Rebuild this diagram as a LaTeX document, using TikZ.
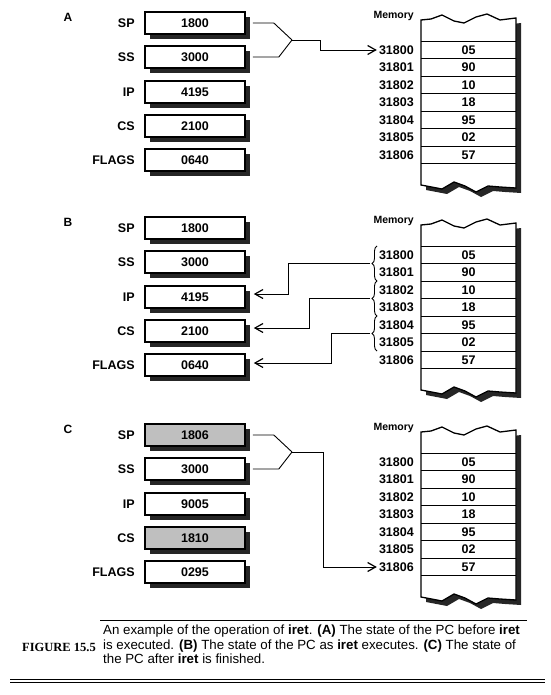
\documentclass[tikz,border=0pt]{standalone}
\usepackage{fontspec}
\setmainfont{Liberation Serif}
\setsansfont{Liberation Sans}
\usetikzlibrary{arrows.meta,positioning,shadows,decorations.pathreplacing}

\tikzset{
  boxshadow/.style={drop shadow={shadow xshift=5pt, shadow yshift=-5pt, fill=black!85, opacity=1}},
  reg/.style={draw, line width=1.6pt, fill=white, minimum width=100pt, minimum height=22pt,
    inner sep=0pt, boxshadow, font=\sffamily\bfseries\fontsize{12.5}{12.5}\selectfont},
  reglab/.style={font=\sffamily\bfseries\fontsize{12.5}{12.5}\selectfont, label distance=6pt},
  addr/.style={anchor=east, inner sep=2pt, font=\sffamily\bfseries\fontsize{12.5}{12.5}\selectfont},
  cell/.style={inner sep=0pt, font=\sffamily\bfseries\fontsize{12.5}{12.5}\selectfont},
  memlab/.style={anchor=east, inner sep=0pt, font=\sffamily\bfseries\fontsize{10.5}{10.5}\selectfont},
  panel/.style={font=\sffamily\bfseries\fontsize{12}{12}\selectfont},
  ptr/.style={-{Straight Barb[length=8pt,width=9pt,line width=1.2pt]}, line width=0.9pt},
  wire/.style={line width=0.9pt},
  brc/.style={decorate, decoration={brace, amplitude=5pt}, line width=0.9pt},
}

\begin{document}
\begin{tikzpicture}[x=1pt, y=-1pt]
\useasboundingbox (0,0) rectangle (550,695);

% the three states A, B, C
\foreach \p/\dy/\vsp/\vip/\vcs/\vfl/\shade in
  {A/0/1800/4195/2100/0640/white, B/205/1800/4195/2100/0640/white, C/412/1806/9005/1810/0295/black!25}{
\begin{scope}[yshift=-\dy pt]
  \node[panel] at (68,17) {\p};
  % registers
  \foreach \r/\lab/\val/\y/\f in {sp/SP/\vsp/23/\shade, ss/SS/3000/57/white, ip/IP/\vip/92/white,
                                  cs/CS/\vcs/126/\shade, fl/FLAGS/\vfl/160/white}
    \node[reg, fill=\f, label={[reglab]left:\lab}] (\p-\r) at (195,\y) {\val};
  \coordinate (\p-fork) at (292,40);
  % memory
  \node[memlab] at (414,16) {Memory};
  \path[draw, fill=white, line width=1.3pt, boxshadow]
    (421,20) -- (431,19) -- (442,15) -- (454,21) -- (464,23) -- (476,17) -- (487,14) -- (500,20) -- (516,18)
    -- (516,188) -- (500,187) -- (488,186) -- (476,192) -- (465,186) -- (454,182) -- (442,189) -- (421,185) -- cycle;
  \foreach \k in {0,...,7}
    \draw[line width=0.9pt] (421,{41+17.5*\k}) -- (516,{41+17.5*\k});
  \foreach \k/\v in {0/05,1/90,2/10,3/18,4/95,5/02,6/57}{
    \node[addr] (\p-a\k) at (416,{50+17.5*\k}) {3180\k};
    \node[cell] (\p-m\k) at (468.5,{50+17.5*\k}) {\v};
  }
\end{scope}
}

% A: SS:SP points at 31800
\draw[wire] ([xshift=7pt]A-sp.east) -- ++(21,0) -- (A-fork);
\draw[wire] ([xshift=7pt]A-ss.east) -- ++(26,0) -- (A-fork);
\draw[ptr] (A-fork) -- ++(28,0) |- (A-a0.west);

% B: words popped into IP, CS, FLAGS
\foreach \i/\ya/\yb in {1/281/246, 2/316/281, 3/351/316}{
  \draw[brc] (377,\ya) -- (377,\yb);
  \coordinate (B-b\i) at (370,{(\ya+\yb)/2});
}
\draw[ptr] (B-b1) -- ++(-82,0) |- ([xshift=8pt,yshift=3pt]B-ip.east);
\draw[ptr] (B-b2) -- ++(-61,0) |- ([xshift=8pt,yshift=3pt]B-cs.east);
\draw[ptr] (B-b3) -- ++(-39,0) |- ([xshift=8pt,yshift=2pt]B-fl.east);

% C: SS:SP points at 31806
\draw[wire] ([xshift=7pt]C-sp.east) -- ++(21,0) -- (C-fork);
\draw[wire] ([xshift=7pt]C-ss.east) -- ++(26,0) -- (C-fork);
\draw[ptr] (C-fork) -- ++(31,0) |- (C-a6.west);

% caption
\draw[line width=0.9pt] (100,620) -- (527,620);
\node[anchor=north west, align=left, inner sep=0pt, font=\sffamily\fontsize{13.3}{14.2}\selectfont] (cap) at (103,625)
  {An example of the operation of \textbf{iret}. \textbf{(A)} The state of the PC before \textbf{iret}\\
   is executed. \textbf{(B)} The state of the PC as \textbf{iret} executes. \textbf{(C)} The state of\\
   the PC after \textbf{iret} is finished.};
\node[anchor=east, inner sep=0pt, font=\rmfamily\bfseries\fontsize{12.5}{12.5}\selectfont] (fig) at (96,647) {FIGURE 15.5};
\draw[line width=0.9pt] (10,679) -- (545,679);
\draw[line width=0.9pt] (10,682.5) -- (545,682.5);
\end{tikzpicture}
\end{document}
